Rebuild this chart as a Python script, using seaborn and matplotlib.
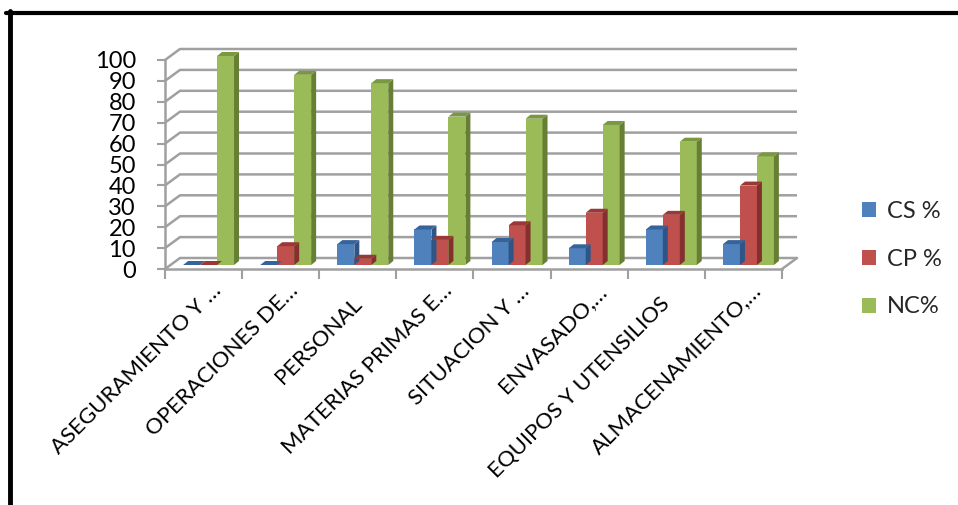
import numpy as np
import pandas as pd
import matplotlib
matplotlib.use("Agg")
import matplotlib.pyplot as plt
from matplotlib.lines import Line2D
from matplotlib.patches import Polygon, Patch
from matplotlib.transforms import ScaledTranslation
import seaborn as sns

# ---- data -------------------------------------------------------------
categories = [
    "ASEGURAMIENTO Y …",
    "OPERACIONES DE…",
    "PERSONAL",
    "MATERIAS PRIMAS E…",
    "SITUACION Y …",
    "ENVASADO,…",
    "EQUIPOS Y UTENSILIOS",
    "ALMACENAMIENTO,…",
]
series = ["CS %", "CP %", "NC%"]
cs_values = [0, 0, 10, 17, 11, 8, 17, 10]
cp_values = [0, 9, 3, 12, 19, 25, 24, 38]
nc_values = [100, 91, 87, 71, 70, 67, 59, 52]
y_ticks = list(range(0, 101, 10))

front_colors = ["#4F81BD", "#C0504D", "#9BBB59"]
top_colors = ["#36649A", "#9A3835", "#7A9842"]
side_colors = ["#2F5586", "#84302E", "#677F35"]

df = pd.DataFrame({
    "categoria": np.repeat(categories, 3),
    "serie": series * len(categories),
    "valor": np.ravel(np.column_stack([cs_values, cp_values, nc_values])),
})

# ---- figure / axes -----------------------------------------------------
W, H, DPI = 958, 505, 100
sns.set_theme(style="white")
plt.rcParams["font.family"] = ["Lato", "DejaVu Sans"]

fig = plt.figure(figsize=(W / DPI, H / DPI), dpi=DPI)
fig.patch.set_facecolor("white")

# front plane of the plot area, in pixels
ax_l, ax_r, ax_t, ax_b = 165, 782, 60, 269
ax = fig.add_axes([ax_l / W, 1 - ax_b / H, (ax_r - ax_l) / W, (ax_b - ax_t) / H])
ax.set_facecolor("none")

sns.barplot(data=df, x="categoria", y="valor", hue="serie", order=categories,
            hue_order=series, palette=front_colors, width=0.66, gap=0,
            saturation=1, linewidth=0, ax=ax, legend=True)

n = len(categories)
ax.set_xlim(-0.5, n - 0.5)
ax.set_ylim(0, 100)

# pixel -> data unit helpers
px_x = (ax_r - ax_l) / n
px_y = (ax_b - ax_t) / 100.0
def dxu(p):
    return p / px_x
def dyu(p):
    return p / px_y

grid_col = "#A0A0A0"

# back wall gridlines with the left-hand depth connectors
wall_dx, wall_dy = dxu(15), dyu(11)
for v in y_ticks:
    ax.plot([-0.5, -0.5 + wall_dx, n - 0.5 + wall_dx], [v, v + wall_dy, v + wall_dy],
            color=grid_col, lw=1.8, clip_on=False, zorder=0.5, solid_capstyle="butt")
# floor: right edge
ax.plot([n - 0.5, n - 0.5 + wall_dx], [0, wall_dy], color=grid_col, lw=1.8,
        clip_on=False, zorder=0.5)

# bars: shift into the depth and add the top and side faces
bar_dx, bar_dy = dxu(5), dyu(4)
shift_x, shift_y = dxu(5), dyu(4)
for k, cont in enumerate(ax.containers):
    for rect in cont.patches:
        x0 = rect.get_x() + shift_x
        w = rect.get_width()
        h = rect.get_height()
        y0 = shift_y
        rect.set_x(x0)
        rect.set_y(y0)
        rect.set_zorder(3)
        rect.set_clip_on(False)
        top = y0 + h
        side = Polygon([(x0 + w, y0), (x0 + w + bar_dx, y0 + bar_dy),
                        (x0 + w + bar_dx, top + bar_dy), (x0 + w, top)],
                       closed=True, facecolor=side_colors[k], edgecolor="none",
                       zorder=3, clip_on=False)
        cap = Polygon([(x0, top), (x0 + bar_dx, top + bar_dy),
                       (x0 + w + bar_dx, top + bar_dy), (x0 + w, top)],
                      closed=True, facecolor=top_colors[k], edgecolor="none",
                      zorder=3, clip_on=False)
        ax.add_patch(side)
        ax.add_patch(cap)

# axes lines and ticks
for s in ["top", "right"]:
    ax.spines[s].set_visible(False)
for s in ["left", "bottom"]:
    ax.spines[s].set_color(grid_col)
    ax.spines[s].set_linewidth(1.8)
    ax.spines[s].set_zorder(4)

ax.set_yticks(y_ticks)
ax.set_yticklabels([str(v) for v in y_ticks])
ax.tick_params(axis="y", direction="out", length=6, width=1.5, color=grid_col,
               pad=15, labelsize=17, labelcolor="black", left=True)
ax.set_xticks(np.arange(-0.5, n, 1.0))
ax.set_xticklabels([])
ax.tick_params(axis="x", direction="out", length=7, width=1.5, color=grid_col,
               bottom=True)
ax.set_xlabel("")
ax.set_ylabel("")
ax.grid(False)

# category labels rotated 45 degrees
xt = ax.get_xaxis_transform()
for i, lab in enumerate(categories):
    if lab.endswith("…"):
        ox, oy = 18.5, -23
    else:
        ox, oy = 5, -36
    tr = xt + ScaledTranslation(ox / DPI, oy / DPI, fig.dpi_scale_trans)
    ax.text(i, 0, lab, transform=tr, rotation=45, rotation_mode="anchor",
            ha="right", va="baseline", fontsize=16, color="black")

# legend
handles = [Patch(facecolor=c, edgecolor="none") for c in front_colors]
leg = ax.legend(handles, series, loc="upper left",
                bbox_to_anchor=(862 / W, 1 - 201 / H), bbox_transform=fig.transFigure,
                frameon=False, fontsize=17, handlelength=0.6, handleheight=0.6,
                handletextpad=0.45, labelspacing=1.13, borderaxespad=0, borderpad=0)

# outer frame (top and left edges)
fig.add_artist(Line2D([6 / W, 1.0], [1 - 13 / H, 1 - 13 / H], color="black", lw=3,
                      transform=fig.transFigure))
fig.add_artist(Line2D([10 / W, 10 / W], [1 - 11 / H, 0], color="black", lw=3.5,
                      transform=fig.transFigure))

fig.savefig("out.png", dpi=DPI, facecolor="white")
